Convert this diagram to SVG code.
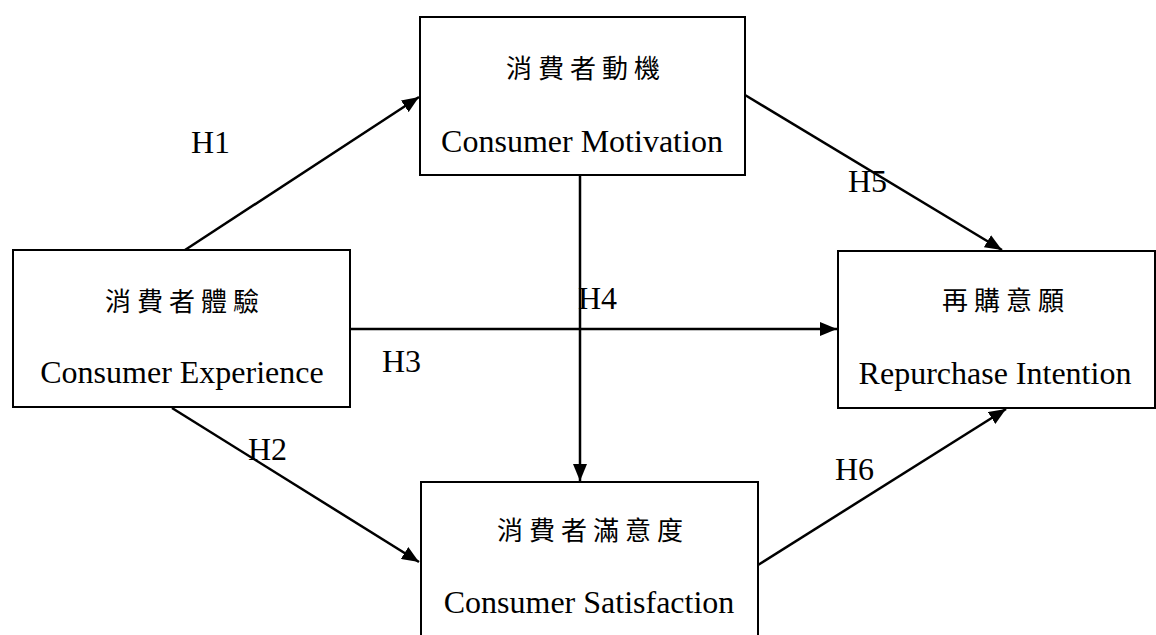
<svg xmlns="http://www.w3.org/2000/svg" width="1156" height="635" viewBox="0 0 1156 635">
<style>
.box{fill:#fff;stroke:#000;stroke-width:2}
.cn{font-family:"Noto Sans CJK TC","Noto Sans CJK SC",sans-serif;font-size:26px;letter-spacing:6px;text-anchor:middle;fill:#000}
.en{font-family:"Liberation Serif","Times New Roman",serif;font-size:32px;text-anchor:middle;fill:#000}
.lb{font-family:"Liberation Serif","Times New Roman",serif;font-size:32px;fill:#000}
.ln{stroke:#000;stroke-width:2.5;fill:none;marker-end:url(#ah)}
</style>
<defs>
<marker id="ah" markerUnits="userSpaceOnUse" markerWidth="18" markerHeight="14" refX="17" refY="7" orient="auto">
<path d="M0,0 L17,7 L0,14 Z" fill="#000"/>
</marker>
</defs>
<rect width="1156" height="635" fill="#fff"/>
<g id="connectors">
<line class="ln" x1="185" y1="250" x2="419" y2="97"/>
<line class="ln" x1="172" y1="408" x2="419" y2="562"/>
<line class="ln" x1="350" y1="329" x2="837" y2="329"/>
<line class="ln" x1="580" y1="175" x2="580" y2="481"/>
<line class="ln" x1="745" y1="95" x2="1002" y2="250"/>
<line class="ln" x1="758" y1="565" x2="1006" y2="409"/>
</g>
<g id="labels">
<text class="lb" x="191" y="153">H1</text>
<text class="lb" x="248" y="460">H2</text>
<text class="lb" x="382" y="372">H3</text>
<text class="lb" x="578" y="309">H4</text>
<text class="lb" x="848" y="192">H5</text>
<text class="lb" x="835" y="480">H6</text>
</g>
<g id="node-experience">
<rect class="box" x="13" y="250" width="337" height="157"/>
<text class="cn" x="185" y="311">消費者體驗</text>
<text class="en" x="182" y="383">Consumer Experience</text>
</g>
<g id="node-motivation">
<rect class="box" x="420" y="17" width="325" height="158"/>
<text class="cn" x="586" y="78">消費者動機</text>
<text class="en" x="582" y="152">Consumer Motivation</text>
</g>
<g id="node-repurchase">
<rect class="box" x="838" y="251" width="317" height="157"/>
<text class="cn" x="1006" y="310">再購意願</text>
<text class="en" x="995" y="384">Repurchase Intention</text>
</g>
<g id="node-satisfaction">
<rect class="box" x="421" y="482" width="337" height="170"/>
<text class="cn" x="593" y="540">消費者滿意度</text>
<text class="en" x="589" y="613">Consumer Satisfaction</text>
</g>
</svg>
